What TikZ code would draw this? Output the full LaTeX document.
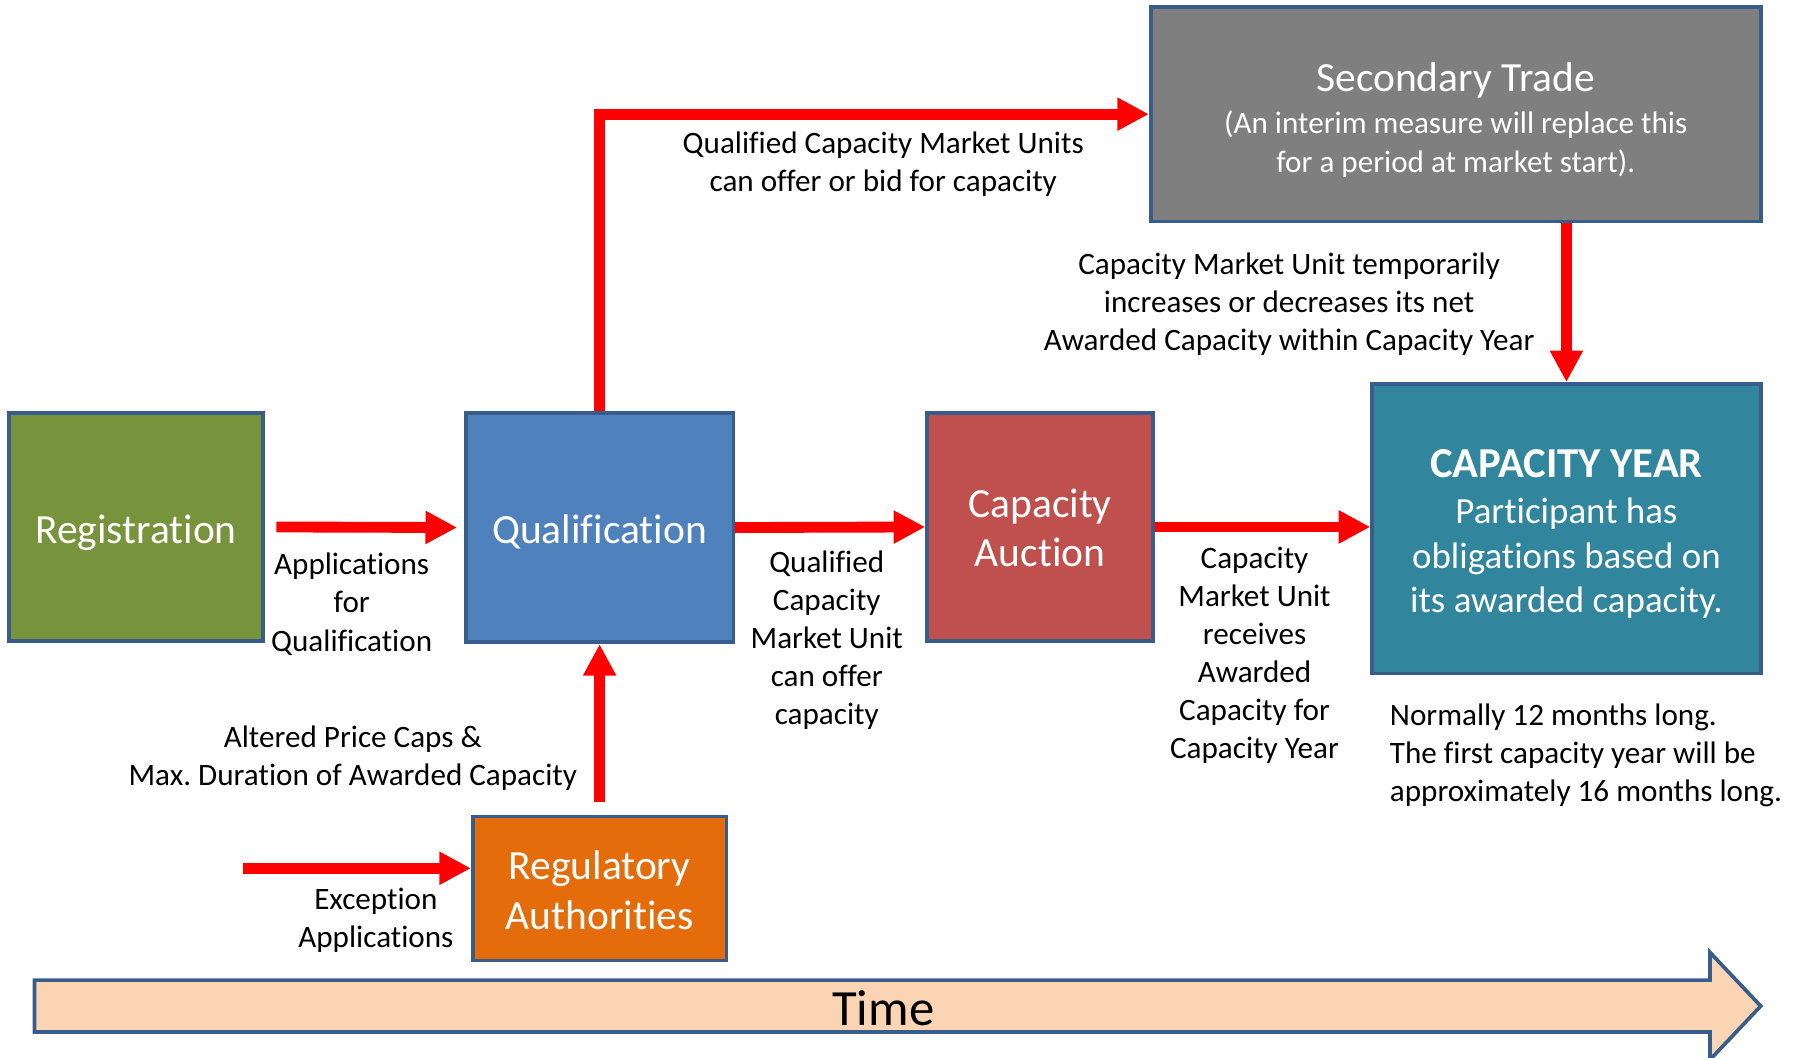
\documentclass[tikz,border=0pt]{standalone}
\usepackage{fontspec}
\setmainfont{Carlito}[Ligatures=NoCommon]
\frenchspacing
\usetikzlibrary{arrows.meta}
\definecolor{bordc}{HTML}{385D8A}
\definecolor{cgreen}{HTML}{77933C}
\definecolor{cblue}{HTML}{4F81BD}
\definecolor{cred}{HTML}{C0504D}
\definecolor{cteal}{HTML}{31859C}
\definecolor{cgray}{HTML}{7F7F7F}
\definecolor{corange}{HTML}{E46C0A}
\definecolor{cpeach}{HTML}{FBD4B4}
\newcommand{\bxtext}[2][2.5pt]{\raisebox{-#1}[\height][\depth]{\begin{tabular}{@{}c@{}}#2\end{tabular}}}
\begin{document}
\begin{tikzpicture}[x=0.5pt,y=-0.5pt,
  box/.style={draw=bordc, line width=1.6pt, text=white, align=center, inner sep=0pt,
    font=\fontsize{18}{21.5}\selectfont},
  lbl/.style={align=center, inner sep=0pt, yshift=-1pt, font=\fontsize{13.5}{16.5}\selectfont},
  redarr/.style={draw=red, line width=4.7pt, -{Triangle[length=13.7pt,width=13.5pt]}}]
\useasboundingbox (0,0) rectangle (1568,917);
% boxes
\node[box, fill=cgreen, minimum width=110pt, minimum height=99pt] (reg) at (118,457) {\bxtext[3pt]{Registration}};
\node[box, fill=cblue, minimum width=116pt, minimum height=99.5pt] (qual) at (520,457.5) {\bxtext[2.5pt]{Qualification}};
\node[box, fill=cred, minimum width=98pt, minimum height=99pt] (auc) at (902,457) {\bxtext[2.2pt]{Capacity\\Auction}};
\node[box, fill=cteal, minimum width=168.5pt, minimum height=125.5pt] (cy) at (1358.5,458.5)
  {\raisebox{-2.4pt}[\height][\depth]{\begin{minipage}{165pt}\centering
   \fontsize{18.5}{20}\selectfont\bfseries CAPACITY YEAR\par\vspace{0.7pt}
   \fontsize{16}{19.3}\selectfont\mdseries Participant has\\obligations based on\\its awarded capacity.\par
   \end{minipage}}};
\node[box, fill=cgray, minimum width=264.5pt, minimum height=93pt] (sec) at (1262.5,99)
  {\raisebox{-2.5pt}[\height][\depth]{\begin{minipage}{260pt}\centering
   \fontsize{18}{20}\selectfont Secondary Trade\par\vspace{1.1pt}
   \fontsize{13.5}{17}\selectfont (An interim measure will replace this\\for a period at market start).\par
   \end{minipage}}};
\node[box, fill=corange, minimum width=110pt, minimum height=62.5pt] (auth) at (520,770.5) {\bxtext[2.7pt]{Regulatory\\Authorities}};
% time arrow
\draw[bordc, line width=1.6pt, fill=cpeach] (30,850) -- (1483,850) -- (1483,826) -- (1527,872.5)
  -- (1483,919) -- (1483,895) -- (30,895) -- cycle;
\node[font=\fontsize{22}{26}\selectfont, inner sep=0pt] (time) at (766,874) {Time};
% labels
\node[lbl] (l1) at (305,522) {Applications\\for\\Qualification};
\node[lbl] (l2) at (717,553) {Qualified\\Capacity\\Market Unit\\can offer\\capacity};
\node[lbl] (l3) at (1088,566.5) {Capacity\\Market Unit\\receives\\Awarded\\Capacity for\\Capacity Year};
\node[lbl] (l4) at (766,140) {Qualified Capacity Market Units\\can offer or bid for capacity};
\node[lbl] (l5) at (1118,262) {Capacity Market Unit temporarily\\increases or decreases its net\\Awarded Capacity within Capacity Year};
\node[lbl] (l6) at (306,655.5) {Altered Price Caps \&\\Max. Duration of Awarded Capacity};
\node[lbl] (l7) at (326,796.5) {Exception\\Applications};
\node[lbl, align=left, anchor=west] (l8) at (1205,653) {Normally 12 months long.\\The first capacity year will be\\approximately 16 months long.};
% connectors
\coordinate (exs) at (211,753);
\draw[redarr] ([xshift=5pt]reg.east) -- ([xshift=-3pt]qual.west);
\draw[redarr] (qual.east) -- (auc.west);
\draw[redarr] (auc.east) -- (auc.east -| cy.west);
\draw[redarr] (qual.north) |- (sec.west);
\draw[redarr] (sec.south -| cy.north) -- (cy.north);
\draw[redarr] ([yshift=5.5pt]auth.north) -- (qual.south);
\draw[redarr] (exs) -- (exs -| auth.west);
\end{tikzpicture}
\end{document}
